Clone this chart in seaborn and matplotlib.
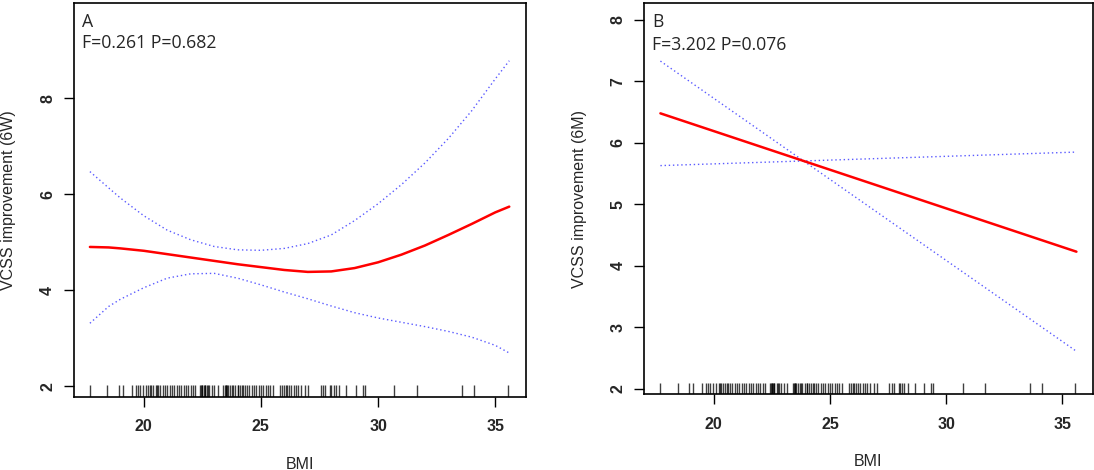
import matplotlib
matplotlib.use("Agg")
import matplotlib.pyplot as plt
import pandas as pd
import seaborn as sns

# panel A: smooth fit with confidence limits
bmi_a = [17.7, 18.5, 19, 20, 21, 22, 23, 24, 25, 26, 27, 28, 29, 30,
         31, 32, 33, 34, 35, 35.6]
fit_a = [4.90, 4.89, 4.87, 4.82, 4.75, 4.68, 4.61, 4.54, 4.48, 4.42,
         4.38, 4.39, 4.46, 4.58, 4.74, 4.93, 5.15, 5.38, 5.62, 5.74]
upper_a = [6.47, 6.13, 5.92, 5.55, 5.25, 5.05, 4.91, 4.84, 4.83, 4.87,
           4.97, 5.15, 5.45, 5.80, 6.20, 6.65, 7.16, 7.74, 8.40, 8.78]
lower_a = [3.31, 3.66, 3.81, 4.05, 4.25, 4.34, 4.35, 4.25, 4.11, 3.96,
           3.82, 3.67, 3.53, 3.42, 3.33, 3.24, 3.14, 3.02, 2.85, 2.69]

# panel B: linear fit
bmi_b = [17.7, 35.6]
fit_b = [6.48, 4.23]
upper_b = [7.33, 2.61]
lower_b = [5.63, 5.85]

# observed BMI values (rug)
rug_bmi = [17.7, 18.45, 18.95, 19.1, 19.5, 19.65, 19.75, 19.85, 19.95,
           20.1, 20.2, 20.25, 20.3, 20.4, 20.5, 20.55, 20.6, 20.7, 20.8,
           20.9, 21.0, 21.1, 21.2, 21.3, 21.4, 21.5, 21.6, 21.7, 21.8,
           21.9, 22.0, 22.1, 22.2, 22.4, 22.45, 22.5, 22.5, 22.55, 22.6,
           22.6, 22.7, 22.75, 22.8, 22.9, 23.0, 23.15, 23.4, 23.45, 23.5,
           23.5, 23.55, 23.6, 23.7, 23.75, 23.8, 23.9, 24.0, 24.0, 24.1,
           24.2, 24.25, 24.3, 24.4, 24.5, 24.6, 24.7, 24.8, 24.9, 25.0,
           25.1, 25.2, 25.3, 25.4, 25.5, 25.8, 25.9, 26.0, 26.05, 26.1,
           26.2, 26.3, 26.4, 26.5, 26.6, 26.7, 26.9, 27.0, 27.55, 27.65,
           27.75, 27.95, 28.0, 28.1, 28.2, 28.35, 28.65, 29.05, 29.35,
           29.45, 30.7, 31.65, 33.6, 34.1, 35.55]

panels = [
    dict(label="A", stats="F=0.261 P=0.682", ylabel="VCSS improvement (6W)",
         x=bmi_a, fit=fit_a, up=upper_a, lo=lower_a,
         ylim=(1.78, 9.99), yticks=[2, 4, 6, 8],
         rect=[0.0672, 0.156, 0.4133, 0.8383], txt_y=(0.939, 0.886)),
    dict(label="B", stats="F=3.202 P=0.076", ylabel="VCSS improvement (6M)",
         x=bmi_b, fit=fit_b, up=upper_b, lo=lower_b,
         ylim=(1.91, 8.27), yticks=[2, 3, 4, 5, 6, 7, 8],
         rect=[0.5888, 0.161, 0.41, 0.832], txt_y=(0.9386, 0.8806)),
]

sns.set_style("ticks")
plt.rcParams['font.family'] = ['Liberation Sans', 'DejaVu Sans']

fig = plt.figure(figsize=(10.94, 4.70), dpi=100)

for p in panels:
    ax = fig.add_axes(p["rect"])
    df = pd.DataFrame({"BMI": p["x"], "fit": p["fit"],
                       "upper": p["up"], "lower": p["lo"]})
    sns.lineplot(data=df, x="BMI", y="upper", ax=ax, color="#5a5aff",
                 lw=1.0, linestyle=(0, (1, 2)), sort=False)
    sns.lineplot(data=df, x="BMI", y="lower", ax=ax, color="#5a5aff",
                 lw=1.0, linestyle=(0, (1, 2)), sort=False)
    sns.lineplot(data=df, x="BMI", y="fit", ax=ax, color="red", lw=1.8,
                 sort=False)
    sns.rugplot(x=rug_bmi, ax=ax, height=0.03, color="black", lw=1.1,
                alpha=0.75)

    ax.set_xlim(17.0, 36.3)
    ax.set_ylim(*p["ylim"])
    ax.set_xticks([20, 25, 30, 35])
    ax.set_yticks(p["yticks"])
    ax.tick_params(axis="both", length=7.2, width=1.0, color="black",
                   labelsize=11.5)
    ax.tick_params(axis="x", pad=9)
    ax.tick_params(axis="y", pad=6)
    for t in ax.get_xticklabels() + ax.get_yticklabels():
        t.set_fontweight("bold")
    for t in ax.get_yticklabels():
        t.set_rotation(90)
        t.set_va("center")
    for s in ax.spines.values():
        s.set_linewidth(1.2)
        s.set_color("black")

    ax.set_xlabel("BMI", fontsize=11.5)
    ax.set_ylabel(p["ylabel"], fontsize=11.5)
    ax.xaxis.set_label_coords(0.5, -0.153)
    ax.yaxis.set_label_coords(-0.128, 0.5)

    ax.text(0.018, p["txt_y"][0], p["label"], transform=ax.transAxes,
            fontsize=12.7, family=["Open Sans", "DejaVu Sans"],
            va="baseline", ha="left")
    ax.text(0.018, p["txt_y"][1], p["stats"], transform=ax.transAxes,
            fontsize=12.7, family=["Open Sans", "DejaVu Sans"],
            va="baseline", ha="left")

fig.savefig("out.png", dpi=100, facecolor="white")
